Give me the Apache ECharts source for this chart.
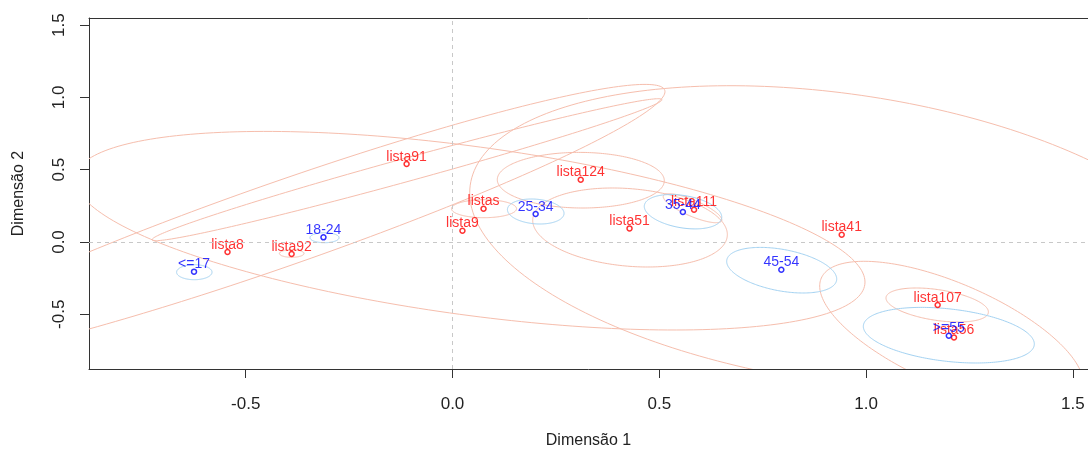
<!DOCTYPE html>
<html>
<head>
<meta charset="utf-8">
<script src="https://cdn.jsdelivr.net/npm/echarts@6/dist/echarts.min.js"></script>
<style>html,body{margin:0;padding:0;background:#fff;}#c{width:1088px;height:452px;}</style>
</head>
<body>
<div id="c"></div>
<script>
// Tick values
const xTicks = [-0.5, 0.0, 0.5, 1.0, 1.5];
const yTicks = [-0.5, 0.0, 0.5, 1.0, 1.5];

// Row points (age groups, blue)
const rowNames = ['<=17', '18-24', '25-34', '35-44', '45-54', '>=55'];
const rowX = [-0.625, -0.312, 0.201, 0.557, 0.795, 1.200];
const rowY = [-0.205, 0.032, 0.194, 0.207, -0.192, -0.648];

// Column points (lists, red)
const colNames = ['lista8', 'lista92', 'lista91', 'lista9', 'listas', 'lista124', 'lista51', 'lista111', 'lista41', 'lista107', 'lista56'];
const colX = [-0.544, -0.389, -0.111, 0.024, 0.075, 0.310, 0.428, 0.584, 0.941, 1.173, 1.2125];
const colY = [-0.069, -0.083, 0.539, 0.078, 0.230, 0.431, 0.094, 0.223, 0.050, -0.436, -0.660];

// Confidence ellipses: centre, half extents along x and y, correlation
const rowEllCx = [-0.6243, -0.3095, 0.2012, 0.5573, 0.7959, 1.2000];
const rowEllCy = [-0.2089, 0.0297, 0.2109, 0.2095, -0.1950, -0.6445];
const rowEllAx = [0.0428, 0.0351, 0.0684, 0.0936, 0.1330, 0.2067];
const rowEllAy = [0.0519, 0.0346, 0.0864, 0.1189, 0.1577, 0.1923];
const rowEllR  = [0.0, 0.0, -0.15, -0.31, -0.386, -0.317];

const colEllCx = [-0.4147, -0.3888, -0.1100, 0.0423, 0.0762, 0.3102, 0.4292, 0.5803, 0.9410, 1.1719, 1.2065];
const colEllCy = [0.1231, -0.0795, 0.5000, 0.0781, 0.2303, 0.4274, 0.1003, 0.2337, 0.0228, -0.4357, -0.6411];
const colEllAx = [0.9284, 0.0297, 0.6165, 0.9550, 0.0786, 0.2019, 0.2353, 0.0708, 0.8994, 0.1238, 0.3187];
const colEllAy = [0.9668, 0.0263, 0.4910, 0.6867, 0.0622, 0.1923, 0.2732, 0.1003, 1.0581, 0.1176, 0.5076];
const colEllR  = [0.948, 0.0, 0.9856, -0.5175, 0.0, -0.02, -0.18, -0.8, -0.3, -0.41, -0.663];

const X_MIN = -0.8789, X_MAX = 1.5365, Y_MIN = -0.8783, Y_MAX = 1.5491;

function zip(a, b) { return a.map((v, i) => [v, b[i]]); }
function ellData(cx, cy, ax, ay, r) { return cx.map((v, i) => [v, cy[i], ax[i], ay[i], r[i]]); }

function makeEllipseRenderer(color) {
  return function (params, api) {
    const cx = api.value(0), cy = api.value(1), ax = api.value(2), ay = api.value(3), r = api.value(4);
    const d = Math.acos(Math.max(-1, Math.min(1, r)));
    const pts = [];
    const N = 240;
    for (let i = 0; i <= N; i++) {
      const t = i / N * 2 * Math.PI;
      pts.push(api.coord([cx + ax * Math.cos(t), cy + ay * Math.cos(t + d)]));
    }
    return {
      type: 'polyline',
      shape: { points: pts },
      style: { stroke: color, fill: null, lineWidth: 1 }
    };
  };
}

const fmt = v => v.toFixed(1);
const axisTextColor = '#222';
const boxColor = '#333';

const chart = echarts.init(document.getElementById('c'), null, { renderer: 'canvas' });
chart.setOption({
  animation: false,
  backgroundColor: '#fff',
  grid: { left: 89, top: 18, right: 0, bottom: 83, containLabel: false, outerBoundsMode: 'none' },
  xAxis: [{
    type: 'value', min: X_MIN, max: X_MAX, position: 'bottom',
    name: 'Dimensão 1', nameLocation: 'middle', nameGap: 64,
    nameTextStyle: { fontFamily: 'Liberation Sans', fontSize: 16, color: axisTextColor },
    axisLine: { show: true, onZero: false, lineStyle: { color: boxColor, width: 1 } },
    axisTick: { show: true, length: 9, customValues: xTicks, lineStyle: { color: boxColor } },
    axisLabel: { customValues: xTicks, formatter: fmt, margin: 27, fontFamily: 'Liberation Sans', fontSize: 17, color: axisTextColor },
    splitLine: { show: false }
  }, {
    type: 'value', min: X_MIN, max: X_MAX, position: 'top',
    axisLine: { show: true, onZero: false, lineStyle: { color: boxColor, width: 1 } },
    axisTick: { show: false }, axisLabel: { show: false }, splitLine: { show: false }
  }],
  yAxis: [{
    type: 'value', min: Y_MIN, max: Y_MAX, position: 'left',
    name: 'Dimensão 2', nameLocation: 'middle', nameGap: 62, nameRotate: 90,
    nameTextStyle: { fontFamily: 'Liberation Sans', fontSize: 16, color: axisTextColor },
    axisLine: { show: true, onZero: false, lineStyle: { color: boxColor, width: 1 } },
    axisTick: { show: true, length: 9, customValues: yTicks, lineStyle: { color: boxColor } },
    axisLabel: { customValues: yTicks, formatter: fmt, rotate: 90, margin: 21, fontFamily: 'Liberation Sans', fontSize: 17, color: axisTextColor, align: 'center', verticalAlign: 'bottom' },
    splitLine: { show: false }
  }],
  series: [
    {
      type: 'custom', name: 'colEll', clip: true, silent: true, z: 1,
      renderItem: makeEllipseRenderer('#F6BEAD'),
      data: ellData(colEllCx, colEllCy, colEllAx, colEllAy, colEllR)
    },
    {
      type: 'custom', name: 'rowEll', clip: true, silent: true, z: 1,
      renderItem: makeEllipseRenderer('#A3D2F2'),
      data: ellData(rowEllCx, rowEllCy, rowEllAx, rowEllAy, rowEllR)
    },
    {
      type: 'scatter', name: 'cols', z: 3,
      symbol: 'circle', symbolSize: 5,
      itemStyle: { color: '#fff', borderColor: '#FF0000', borderWidth: 1.5 },
      label: { show: true, position: 'top', distance: -3, formatter: p => colNames[p.dataIndex], fontFamily: 'Liberation Sans', fontSize: 14, color: '#FF0000' },
      data: zip(colX, colY),
      markLine: {
        silent: true, symbol: ['none', 'none'], label: { show: false },
        lineStyle: { type: [4, 4], color: '#C8C8C8', width: 1 },
        data: [{ xAxis: 0 }, { yAxis: 0 }]
      }
    },
    {
      type: 'scatter', name: 'rows', z: 4,
      symbol: 'circle', symbolSize: 5,
      itemStyle: { color: '#fff', borderColor: '#0000FF', borderWidth: 1.5 },
      label: { show: true, position: 'top', distance: -3, formatter: p => rowNames[p.dataIndex], fontFamily: 'Liberation Sans', fontSize: 14, color: '#0000FF' },
      data: zip(rowX, rowY)
    }
  ]
});
</script>
</body>
</html>
